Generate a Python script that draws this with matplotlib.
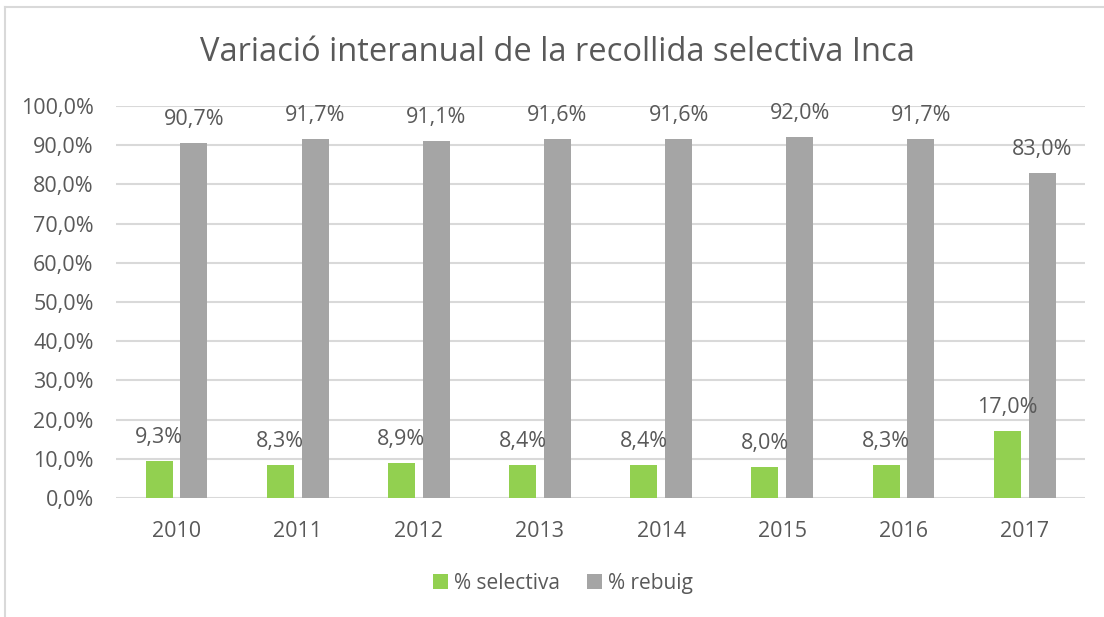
import matplotlib
matplotlib.use("Agg")
import matplotlib.pyplot as plt
from matplotlib.lines import Line2D
from matplotlib.ticker import FuncFormatter
import numpy as np

years = ["2010", "2011", "2012", "2013", "2014", "2015", "2016", "2017"]
selectiva = [9.3, 8.3, 8.9, 8.4, 8.4, 8.0, 8.3, 17.0]
rebuig = [90.7, 91.7, 91.1, 91.6, 91.6, 92.0, 91.7, 83.0]
yticks = [0, 10, 20, 30, 40, 50, 60, 70, 80, 90, 100]

plt.rcParams['font.family'] = ['Open Sans', 'DejaVu Sans']
txt = "#595959"
green = "#92d050"
gray = "#a5a5a5"

fig = plt.figure(figsize=(11.04, 6.17), dpi=100)
ax = fig.add_axes([0.105, 0.193, 0.878, 0.635])

x = np.arange(len(years))
w = 0.223
off = 0.144
b1 = ax.bar(x - off, selectiva, w, color=green, label="% selectiva", zorder=3)
b2 = ax.bar(x + off, rebuig, w, color=gray, label="% rebuig", zorder=3)

def fmt(v):
    return f"{v:.1f}".replace(".", ",") + "%"

for bars, vals in ((b1, selectiva), (b2, rebuig)):
    for r, v in zip(bars, vals):
        ax.annotate(fmt(v), (r.get_x() + r.get_width() / 2, v),
                    xytext=(0, 13), textcoords="offset pixels",
                    ha="center", va="bottom", fontsize=15.5, color=txt)

ax.set_xlim(-0.5, len(years) - 0.5)
ax.set_ylim(0, 100)
ax.set_yticks(yticks)
ax.yaxis.set_major_formatter(FuncFormatter(lambda v, p: fmt(v)))
ax.set_xticks(x)
ax.set_xticklabels(years)
ax.tick_params(axis="both", length=0, labelsize=15.5, colors=txt)
ax.tick_params(axis="x", pad=16.5)
ax.tick_params(axis="y", pad=16)
ax.grid(axis="y", color="#d9d9d9", linewidth=1.5, zorder=0)
for s in ax.spines.values():
    s.set_visible(False)

fig.text(0.505, 0.915, "Variació interanual de la recollida selectiva Inca",
         ha="center", va="center", fontsize=23.5, color=txt)

fig.legend(handles=[b1, b2], loc="center", bbox_to_anchor=(0.51, 0.055),
           ncol=2, frameon=False, fontsize=15, labelcolor=txt,
           handlelength=0.7, handleheight=0.7, handletextpad=0.3, columnspacing=1.3)

# chart frame lines (left and top)
fig.add_artist(Line2D([0.0045, 0.0045], [0, 0.989], transform=fig.transFigure, color="#d9d9d9", lw=1.5))
fig.add_artist(Line2D([0.0045, 1], [0.989, 0.989], transform=fig.transFigure, color="#d9d9d9", lw=1.5))

fig.savefig("out.png", dpi=100)
